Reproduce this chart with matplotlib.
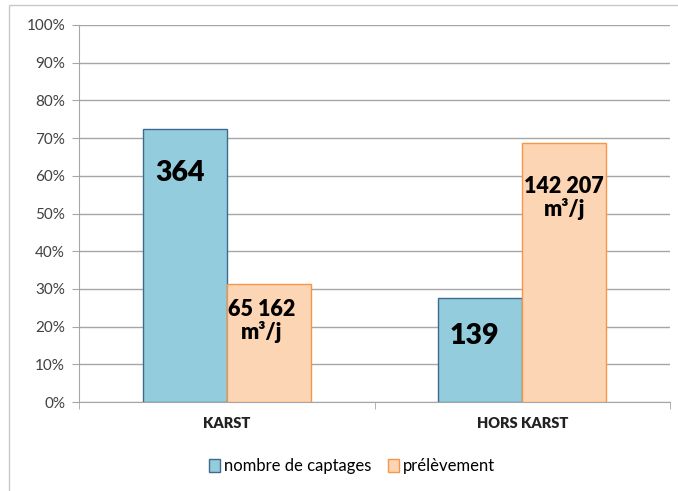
import matplotlib.pyplot as plt
import matplotlib.patches as mpatches
import numpy as np

plt.rcParams['font.family'] = ['Lato', 'DejaVu Sans']

# data (shares, in %)
categories = ["KARST", "HORS KARST"]
series = ["nombre de captages", "prélèvement"]
captages_pct = [72.4, 27.6]
prelevement_pct = [31.4, 68.6]
captages_lbl = ["364", "139"]
prelevement_lbl = ["65 162\nm³/j", "142 207\nm³/j"]

blue_fill, blue_edge = "#93CDDD", "#3D6A8E"
orange_fill, orange_edge = "#FCD5B5", "#F79646"

fig = plt.figure(figsize=(6.78, 4.91), dpi=100)
# light frame like the spreadsheet chart area
fig.patches.append(mpatches.Rectangle((9/678, -0.01), 1.0, 1 - 5/491 + 0.01,
                                      transform=fig.transFigure, fill=False,
                                      edgecolor="#C8C8C8", linewidth=1.0))
ax = fig.add_axes([79/678, 1 - 402/491, 591/678, 377/491])

x = np.arange(len(categories))
w = 0.284
b1 = ax.bar(x - w/2, captages_pct, w, color=blue_fill, edgecolor=blue_edge,
            linewidth=1.0, label=series[0], zorder=3)
b2 = ax.bar(x + w/2, prelevement_pct, w, color=orange_fill, edgecolor=orange_edge,
            linewidth=1.0, label=series[1], zorder=3)

# value labels (offsets in pixels from bar top, font size)
off1 = [(-5, -31, 20.5), (-6, -25, 20.5)]
off2 = [(-7, -15, 15.5), (0, -33, 15.5)]
for bar, txt, (dx, dy, fs) in zip(b1, captages_lbl, off1):
    ax.annotate(txt, (bar.get_x() + bar.get_width()/2, bar.get_height()),
                xytext=(dx*0.72, dy*0.72), textcoords="offset points",
                ha="center", va="top", fontsize=fs, fontweight="heavy", zorder=4)
for bar, txt, (dx, dy, fs) in zip(b2, prelevement_lbl, off2):
    ax.annotate(txt, (bar.get_x() + bar.get_width()/2, bar.get_height()),
                xytext=(dx*0.72, dy*0.72), textcoords="offset points",
                ha="center", va="top", fontsize=fs, fontweight="heavy",
                linespacing=1.05, zorder=4)

ax.set_xlim(-0.5, 1.5)
ax.set_ylim(0, 100)
ax.set_yticks(np.arange(0, 101, 10))
ax.set_yticklabels([f"{v}%" for v in range(0, 101, 10)], fontsize=11, color="#404040")
ax.yaxis.grid(True, color="#A6A6A6", linewidth=1.0, zorder=0)
ax.set_axisbelow(True)

ax.set_xticks(x)
ax.set_xticklabels(categories, fontsize=10.5, fontweight="heavy", color="#222222")
ax.tick_params(axis="x", length=0, pad=11)
ax.set_xticks([-0.5, 0.5, 1.5], minor=True)
ax.tick_params(axis="x", which="minor", length=5, color="#A6A6A6", direction="out")
ax.tick_params(axis="y", length=5, color="#A6A6A6", pad=5)

for s in ["top", "right"]:
    ax.spines[s].set_visible(False)
ax.spines["left"].set_color("#A6A6A6")
ax.spines["bottom"].set_color("#A6A6A6")

handles = [mpatches.Patch(facecolor=blue_fill, edgecolor=blue_edge, label=series[0]),
           mpatches.Patch(facecolor=orange_fill, edgecolor=orange_edge, label=series[1])]
fig.legend(handles=handles, loc="center", bbox_to_anchor=(352/678, 1 - 466/491),
           ncol=2, frameon=False, fontsize=12, handlelength=0.65, handleheight=0.85,
           handletextpad=0.25, columnspacing=1.0)

fig.savefig("out.png", dpi=100)
